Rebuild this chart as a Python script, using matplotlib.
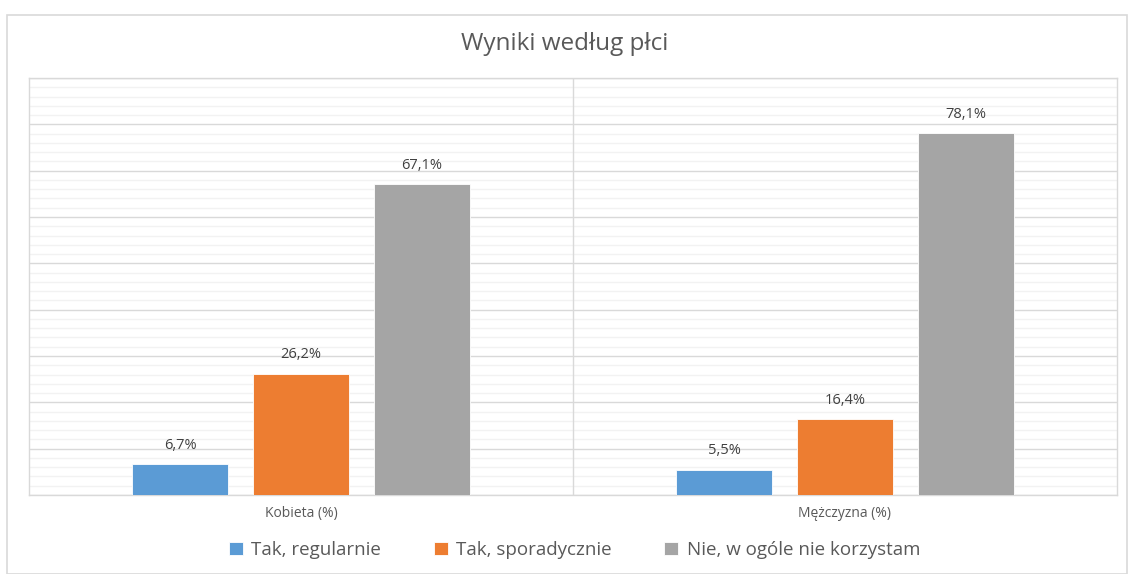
import matplotlib.pyplot as plt
from matplotlib.patches import Rectangle
from matplotlib.ticker import MultipleLocator

# dane z wykresu
categories = ['Kobieta (%)', 'Mężczyzna (%)']
series_names = ['Tak, regularnie', 'Tak, sporadycznie', 'Nie, w ogóle nie korzystam']
regularnie = [6.7, 5.5]
sporadycznie = [26.2, 16.4]
nie_korzysta = [67.1, 78.1]
colors = ['#5B9BD5', '#ED7D31', '#A5A5A5']

plt.rcParams['font.family'] = ['Open Sans', 'DejaVu Sans']

fig = plt.figure(figsize=(11.29, 5.74), dpi=100)
fig.patches.append(Rectangle((7 / 1129, 0), 1120 / 1129, 1 - 15 / 574,
                             transform=fig.transFigure, fill=False,
                             edgecolor='#d9d9d9', linewidth=1.2))

ax = fig.add_axes([29 / 1129, 1 - 495 / 574, 1088 / 1129, 417 / 574])

x = range(len(categories))
offsets = [-0.222, 0.0, 0.222]
width = 0.177
for vals, name, col, off in zip([regularnie, sporadycznie, nie_korzysta], series_names, colors, offsets):
    bars = ax.bar([i + off for i in x], vals, width=width, color=col, label=name,
                  edgecolor='white', linewidth=0.6, zorder=3)
    for b, v in zip(bars, vals):
        ax.annotate(f'{v:.1f}%'.replace('.', ','), (b.get_x() + b.get_width() / 2, v),
                    xytext=(0, 8), textcoords='offset points', ha='center', va='bottom',
                    fontsize=10.5, color='#404040')

ax.set_xlim(-0.5, 1.5)
ax.set_ylim(0, 90)
ax.yaxis.set_major_locator(MultipleLocator(10))
ax.yaxis.set_minor_locator(MultipleLocator(2))
ax.set_axisbelow(True)
ax.grid(axis='y', which='minor', color='#f2f2f2', linewidth=1.0)
ax.grid(axis='y', which='major', color='#d9d9d9', linewidth=1.0)
ax.axvline(0.5, color='#d9d9d9', linewidth=1.0, zorder=2)
ax.set_xticks(list(x))
ax.set_xticklabels(categories, fontsize=10, color='#595959')
ax.tick_params(axis='both', which='both', length=0)
ax.tick_params(axis='x', pad=8)
ax.set_yticklabels([])
for s in ax.spines.values():
    s.set_color('#d9d9d9')
    s.set_linewidth(1.0)

fig.text(0.5, 1 - 44 / 574, 'Wyniki według płci', ha='center', va='center',
         fontsize=17.5, color='#595959')

fig.legend(loc='center', bbox_to_anchor=(0.509, 1 - 550 / 574), ncol=3, frameon=False,
           fontsize=13.5, handlelength=0.75, handleheight=0.75, handletextpad=0.45,
           columnspacing=2.8, labelcolor='#595959')

fig.savefig('out.png', dpi=100)
